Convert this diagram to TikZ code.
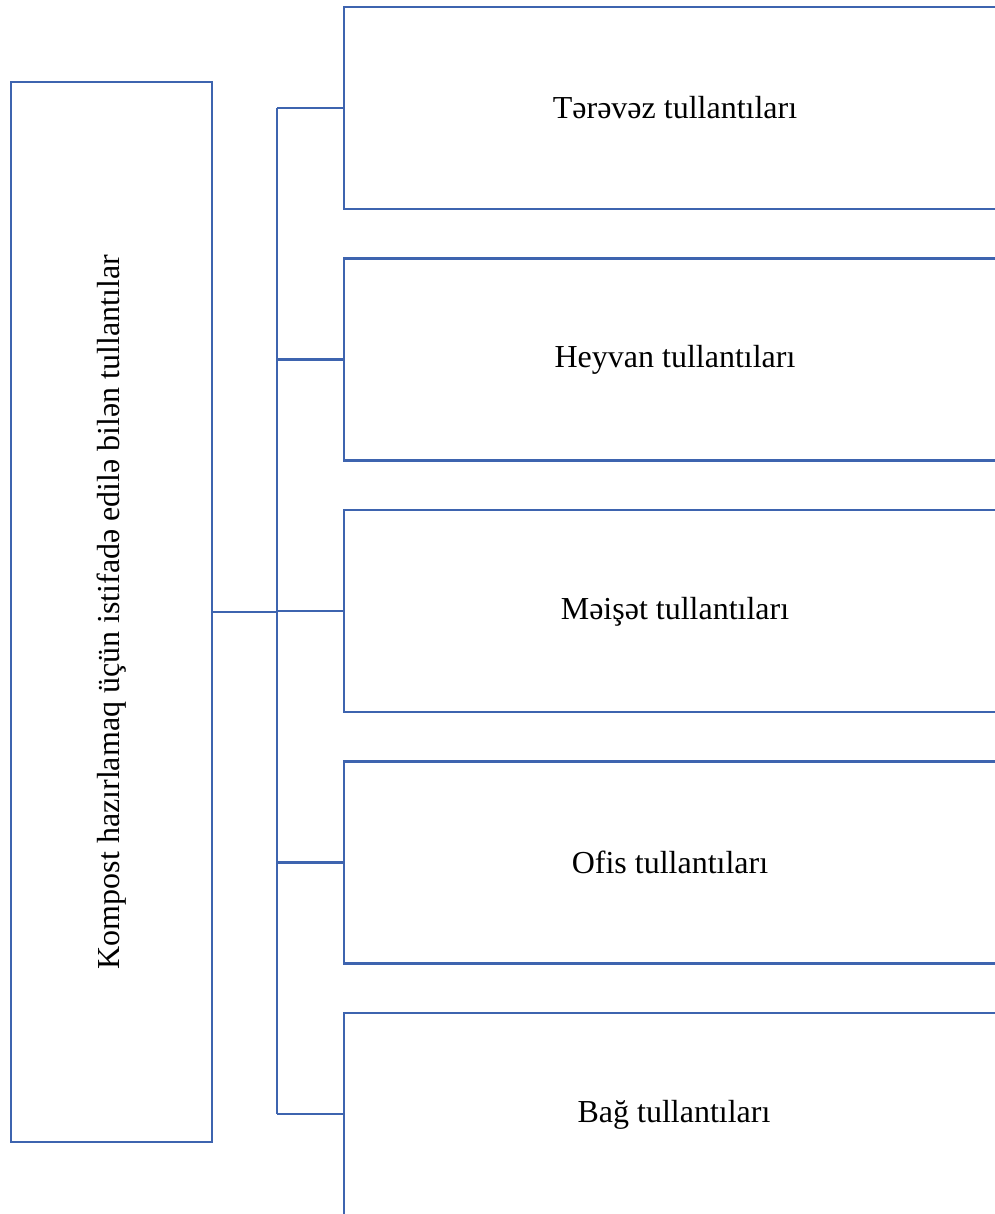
\documentclass[tikz,border=0pt]{standalone}
\usepackage{fontspec}
\setmainfont{Liberation Serif}
\definecolor{lineblue}{RGB}{62,100,175}
\begin{document}
\begin{tikzpicture}[x=0.75pt,y=-0.75pt,
  conn/.style={draw=lineblue,line width=1.7pt},
  sidebox/.style={draw=lineblue,line width=1.7pt,rectangle,minimum width=150.75pt,minimum height=795pt,inner sep=0pt},
  itembox/.style={draw=lineblue,line width=1.7pt,rectangle,minimum width=502pt,minimum height=151.5pt,inner sep=0pt},
  lbl/.style={font=\fontsize{24}{28}\selectfont,inner sep=0pt}]
\useasboundingbox (0,0) rectangle (995,1214);
\clip (0,0) rectangle (995,1214);
\node[sidebox] (L) at (111.5,612) {};
\node[lbl,rotate=90] (Lt) at (112,612) {Kompost hazırlamaq üçün istifadə edilə bilən tullantılar};
\node[itembox] (b1) at (679,108) {};
\node[itembox] (b2) at (679,359.5) {};
\node[itembox] (b3) at (679,611) {};
\node[itembox] (b4) at (679,862.5) {};
\node[itembox] (b5) at (679,1114) {};
\node[lbl] (t1) at (675,108) {Tərəvəz tullantıları};
\node[lbl] (t2) at (675,360) {Heyvan tullantıları};
\node[lbl] (t3) at (675,612) {Məişət tullantıları};
\node[lbl] (t4) at (670,862) {Ofis tullantıları};
\node[lbl] (t5) at (674,1115) {Bağ tullantıları};
\coordinate (bt) at (277,108);
\coordinate (bb) at (277,1114);
\draw[conn] (bt) -- (bb);
\draw[conn] (L.east) -- (L.east -| bt);
\foreach \i in {1,...,5} {\draw[conn] (b\i.west -| bt) -- (b\i.west);}
\end{tikzpicture}
\end{document}
